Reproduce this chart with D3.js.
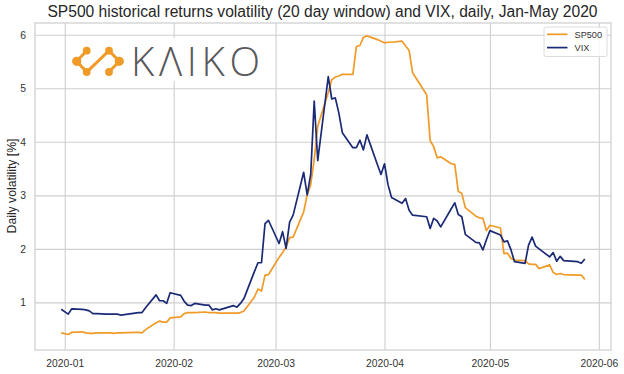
<!DOCTYPE html>
<html>
<head>
<meta charset="utf-8">
<script src="https://cdn.jsdelivr.net/npm/d3@7/dist/d3.min.js"></script>
<style>
  body { margin: 0; background: #fff; }
  text { font-family: "Liberation Sans", Arial, sans-serif; fill: #262626; }
</style>
</head>
<body>
<div id="chart"></div>
<script>
// trading days
const dates = [
  "2019-12-31",
  "2020-01-02", "2020-01-03", "2020-01-06", "2020-01-07", "2020-01-08", "2020-01-09", "2020-01-10",
  "2020-01-13", "2020-01-14", "2020-01-15", "2020-01-16", "2020-01-17", "2020-01-21", "2020-01-22",
  "2020-01-23", "2020-01-24", "2020-01-27", "2020-01-28", "2020-01-29", "2020-01-30", "2020-01-31",
  "2020-02-03", "2020-02-04", "2020-02-05", "2020-02-06", "2020-02-07", "2020-02-10", "2020-02-11",
  "2020-02-12", "2020-02-13", "2020-02-14", "2020-02-18", "2020-02-19", "2020-02-20", "2020-02-21",
  "2020-02-24", "2020-02-25", "2020-02-26", "2020-02-27", "2020-02-28",
  "2020-03-02", "2020-03-03", "2020-03-04", "2020-03-05", "2020-03-06", "2020-03-09", "2020-03-10",
  "2020-03-11", "2020-03-12", "2020-03-13", "2020-03-16", "2020-03-17", "2020-03-18", "2020-03-19",
  "2020-03-20", "2020-03-23", "2020-03-24", "2020-03-25", "2020-03-26", "2020-03-27", "2020-03-30",
  "2020-03-31",
  "2020-04-01", "2020-04-02", "2020-04-03", "2020-04-06", "2020-04-07", "2020-04-08", "2020-04-09",
  "2020-04-13", "2020-04-14", "2020-04-15", "2020-04-16", "2020-04-17", "2020-04-20", "2020-04-21",
  "2020-04-22", "2020-04-23", "2020-04-24", "2020-04-27", "2020-04-28", "2020-04-29", "2020-04-30",
  "2020-05-01", "2020-05-04", "2020-05-05", "2020-05-06", "2020-05-07", "2020-05-08", "2020-05-11",
  "2020-05-12", "2020-05-13", "2020-05-14", "2020-05-15", "2020-05-18", "2020-05-19", "2020-05-20",
  "2020-05-21", "2020-05-22", "2020-05-26", "2020-05-27", "2020-05-28"
];
const sp500 = [
  0.43,
  0.40, 0.44, 0.45, 0.43, 0.42, 0.42, 0.43,
  0.43, 0.43, 0.42, 0.43, 0.43, 0.44, 0.44,
  0.43, 0.49, 0.62, 0.65, 0.63, 0.63, 0.71,
  0.73, 0.79, 0.81, 0.81, 0.81, 0.82, 0.81,
  0.81, 0.81, 0.80, 0.80, 0.80, 0.81, 0.84,
  1.10, 1.25, 1.21, 1.51, 1.52,
  1.84, 1.93, 2.04, 2.21, 2.22, 2.69, 3.01,
  3.20, 3.67, 4.29, 4.92, 5.16, 5.21, 5.23,
  5.26, 5.26, 5.78, 5.80, 5.95, 5.98, 5.91,
  5.88,
  5.85, 5.86, 5.86, 5.88, 5.79, 5.71, 5.29,
  4.88, 4.02, 3.91, 3.70, 3.72, 3.59, 3.58,
  3.07, 3.04, 2.77, 2.61, 2.58, 2.57, 2.34,
  2.44, 2.39, 1.91, 1.92, 1.82, 1.79, 1.78,
  1.72, 1.71, 1.71, 1.63, 1.70, 1.56, 1.52,
  1.54, 1.52, 1.51, 1.51, 1.43
];
const vix = [
  0.87,
  0.78, 0.88, 0.87, 0.86, 0.84, 0.79, 0.79,
  0.78, 0.78, 0.78, 0.78, 0.76, 0.80, 0.81,
  0.81, 0.90, 1.14, 1.03, 1.03, 0.98, 1.18,
  1.13, 1.02, 0.95, 0.94, 0.98, 0.95, 0.95,
  0.86, 0.88, 0.86, 0.94, 0.91, 0.98, 1.07,
  1.58, 1.74, 1.74, 2.47, 2.53,
  2.10, 2.32, 2.01, 2.50, 2.63, 3.43, 3.01,
  3.39, 4.76, 3.65, 5.22, 4.80, 4.82, 4.54,
  4.17, 3.89, 3.89, 4.03, 3.85, 4.13, 3.57,
  3.39,
  3.59, 3.20, 2.96, 2.85, 2.94, 2.72, 2.63,
  2.60, 2.38, 2.57, 2.52, 2.41, 2.75, 2.86,
  2.64, 2.60, 2.27, 2.12, 2.11, 1.98, 2.17,
  2.34, 2.26, 2.13, 2.15, 1.98, 1.76, 1.73,
  2.07, 2.22, 2.05, 2.00, 1.85, 1.93, 1.77,
  1.86, 1.78, 1.76, 1.73, 1.81
];
const seriesNames = ["SP500", "VIX"];
const seriesColors = ["#f09a27", "#1b2a75"];
const yTicks = [1, 2, 3, 4, 5, 6];

const width = 624, height = 374;
const margin = { top: 23, right: 13, bottom: 24, left: 35 };
const gridColor = "#cfcfd2";

const parseDate = d3.utcParse("%Y-%m-%d");
const days = dates.map(parseDate);

const svg = d3.select("#chart").append("svg")
  .attr("width", width)
  .attr("height", height)
  .style("display", "block");

// x has matplotlib's 5% margin around the data
const x = d3.scaleUtc()
  .domain([new Date(Date.UTC(2019, 11, 23, 13)), new Date(Date.UTC(2020, 5, 4, 11))])
  .range([margin.left, width - margin.right]);
const y = d3.scaleLinear()
  .domain([0.11, 6.22])
  .range([height - margin.bottom, margin.top]);

// axes and grid
const xAxis = svg.append("g")
  .attr("transform", "translate(0," + (height - margin.bottom) + ")")
  .call(d3.axisBottom(x)
    .ticks(d3.utcMonth.every(1))
    .tickFormat(d3.utcFormat("%Y-%m"))
    .tickSize(-(height - margin.top - margin.bottom))
    .tickPadding(10));
const yAxis = svg.append("g")
  .attr("transform", "translate(" + margin.left + ",0)")
  .call(d3.axisLeft(y)
    .tickValues(yTicks)
    .tickFormat(d3.format("d"))
    .tickSize(-(width - margin.left - margin.right))
    .tickPadding(9));
[xAxis, yAxis].forEach((axis) => {
  axis.select(".domain").remove();
  axis.selectAll("line").attr("stroke", gridColor).attr("stroke-width", 1.1);
  axis.selectAll("text").style("font-size", "10.3px").style("fill", "#333");
});

// frame
svg.append("rect")
  .attr("x", margin.left)
  .attr("y", margin.top)
  .attr("width", width - margin.left - margin.right)
  .attr("height", height - margin.top - margin.bottom)
  .attr("fill", "none")
  .attr("stroke", "#d4d4d6")
  .attr("stroke-width", 1.4);

// LOGO, pasted over the grid on a white patch
const logo = svg.append("g");
logo.append("rect")
  .attr("x", 69).attr("y", 38)
  .attr("width", 196).attr("height", 43)
  .attr("fill", "#fff");
const logoNodes = [[86.7, 50.7], [76.7, 61.3], [86.7, 72], [109, 50.7], [119.3, 61.3], [109, 72]];
logo.append("path")
  .attr("d", d3.line()([logoNodes[0], logoNodes[1], logoNodes[2], logoNodes[3], logoNodes[4], logoNodes[5]]))
  .attr("fill", "none")
  .attr("stroke", "#f09a27")
  .attr("stroke-width", 3);
logo.selectAll("circle")
  .data(logoNodes)
  .enter()
  .append("circle")
  .attr("cx", (d) => d[0])
  .attr("cy", (d) => d[1])
  .attr("r", (d, i) => (i === 1 || i === 4 ? 4.6 : 3.9))
  .attr("fill", "#f09a27");
logo.append("text")
  .attr("x", 131)
  .attr("y", 76)
  .attr("textLength", 129)
  .style("font-family", "'Open Sans', sans-serif")
  .style("font-weight", 300)
  .style("font-size", "40px")
  .style("fill", "#58585a")
  .text("KΛIKO");

// lines
const line = d3.line()
  .x((d, i) => x(days[i]))
  .y((d) => y(d));
[sp500, vix].forEach((values, i) => {
  svg.append("path")
    .datum(values)
    .attr("d", line)
    .attr("fill", "none")
    .attr("stroke", seriesColors[i])
    .attr("stroke-width", 1.7)
    .attr("stroke-linejoin", "round");
});

// labels
svg.append("text")
  .attr("x", 322.5)
  .attr("y", 17)
  .attr("text-anchor", "middle")
  .style("font-size", "15.6px")
  .text("SP500 historical returns volatility (20 day window) and VIX, daily, Jan-May 2020");
svg.append("text")
  .attr("transform", "translate(15.5,186) rotate(-90)")
  .attr("text-anchor", "middle")
  .style("font-size", "12.2px")
  .text("Daily volatility [%]");

// legend
const legend = svg.append("g");
legend.append("rect")
  .attr("x", 544).attr("y", 27)
  .attr("width", 63).attr("height", 29.5)
  .attr("rx", 2)
  .attr("fill", "#fff")
  .attr("fill-opacity", 0.85)
  .attr("stroke", "#dcdcde");
seriesNames.forEach((name, i) => {
  const rowY = 34.3 + i * 13.3;
  legend.append("line")
    .attr("x1", 547).attr("x2", 567.5)
    .attr("y1", rowY).attr("y2", rowY)
    .attr("stroke", seriesColors[i])
    .attr("stroke-width", 1.7);
  legend.append("text")
    .attr("x", 574.5)
    .attr("y", rowY + 3.3)
    .style("font-size", "9.2px")
    .style("fill", "#333")
    .text(name);
});
</script>
</body>
</html>
